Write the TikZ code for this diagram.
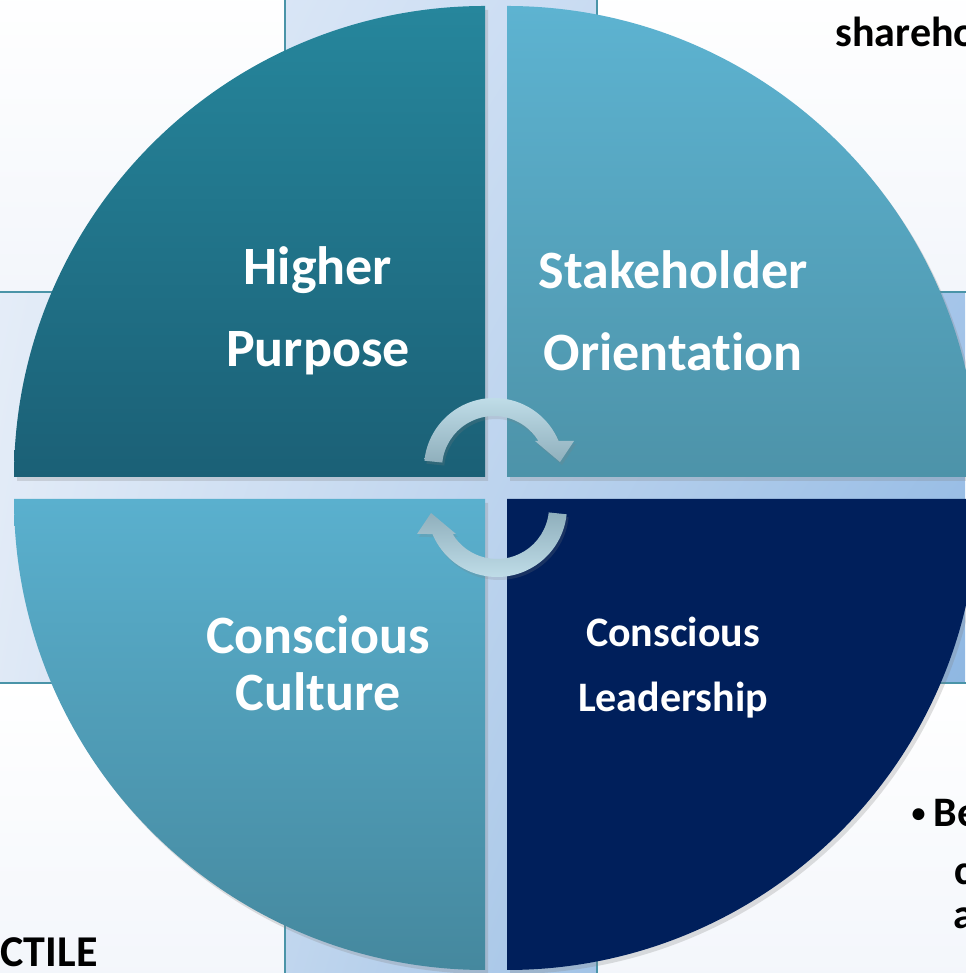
\documentclass[tikz,border=0pt]{standalone}
\usepackage{fontspec}
\setmainfont{Carlito}[Ligatures={TeX, NoCommon}]
\usetikzlibrary{shadows, shadings}

\definecolor{tlTop}{HTML}{26869C}
\definecolor{tlLow}{HTML}{1B6076}
\definecolor{trTop}{HTML}{5DB3D1}
\definecolor{trLow}{HTML}{4D93A9}
\definecolor{blTop}{HTML}{5AB0CE}
\definecolor{blLow}{HTML}{45889E}
\definecolor{brFill}{HTML}{001F5B}
\definecolor{panelline}{HTML}{4A94A8}
\definecolor{panellow}{HTML}{F3F6FB}
\definecolor{arrowtop}{HTML}{C2DFEA}
\definecolor{arrowlow}{HTML}{8FAFBC}
\definecolor{bgUL}{HTML}{E8EFF9}
\definecolor{bgUR}{HTML}{B5CFEE}
\definecolor{bgLL}{HTML}{DCE7F5}
\definecolor{bgLR}{HTML}{7EADDD}

\begin{document}
\begin{tikzpicture}[
  x=1pt, y=1pt,
  panel/.style={draw=panelline, line width=2pt, top color=white, bottom color=panellow},
  quad/.style={drop shadow={opacity=0.25, shadow xshift=3pt, shadow yshift=-4pt}},
  bigtext/.style={text=white, align=center, font=\fontsize{54}{82}\selectfont\bfseries},
  midtext/.style={text=white, align=center, font=\fontsize{42}{65}\selectfont\bfseries},
  sidetext/.style={anchor=base west, text=black, font=\fontsize{42}{48}\selectfont\bfseries},
  cycarrow/.style={drop shadow={opacity=0.2, shadow xshift=2pt, shadow yshift=-3pt}},
]
\useasboundingbox (0,0) rectangle (965,973);

%% Backdrop and corner panels
\shade[upper left=bgUL, upper right=bgUR, lower left=bgLL, lower right=bgLR]
  (0,0) rectangle (965,973);
\path[panel] (-10,681) rectangle (285,990);
\path[panel] (597,681) rectangle (980,990);
\path[panel] (-10,-10) rectangle (285,290);
\path[panel] (597,-10) rectangle (980,290);

%% Side texts
\node[sidetext] (share) at (832,926) {shareho};
\node[sidetext] (bullet) at (908,146)
  {\raisebox{4pt}{\fontsize{28}{28}\selectfont\textbullet}\hspace{8pt}Be};
\node[sidetext] (linec) at (951,88) {c};
\node[sidetext] (linea) at (950,44) {a};
\node[sidetext, font=\fontsize{44}{48}\selectfont\bfseries] (ctile) at (-3,6) {CTILE};

%% Quadrants
\path[quad, top color=tlTop, bottom color=tlLow]
  (485,496) -- (14,496) arc[start angle=180, end angle=90, radius=471pt] -- cycle;
\path[quad, top color=trTop, bottom color=trLow]
  (507,496) -- (507,967) arc[start angle=90, end angle=0, radius=471pt] -- cycle;
\path[quad, top color=blTop, bottom color=blLow]
  (485,474) -- (14,474) arc[start angle=180, end angle=270, radius=471pt] -- cycle;
\path[quad, fill=brFill]
  (507,474) -- (978,474) arc[start angle=0, end angle=-90, radius=471pt] -- cycle;

%% Labels
\node[bigtext] (purpose) at (318,662) {Higher\\Purpose};
\node[bigtext] (stake) at (673,662) {Stakeholder\\Orientation};
\node[bigtext, font=\fontsize{54}{57}\selectfont\bfseries] (culture) at (318,310) {Conscious\\Culture};
\node[midtext] (leader) at (673,305) {Conscious\\Leadership};

%% Cycle arrows
\begin{scope}[shift={(494,505)}]
  \path[cycarrow, top color=arrowtop, bottom color=arrowlow]
    (174:70pt) arc[start angle=174, end angle=22.7, radius=70pt] -- (80,27) -- (66,6)
    -- (41,27) -- (31.3:52pt) arc[start angle=31.3, end angle=174, radius=52pt] -- cycle;
\end{scope}
\begin{scope}[rotate around={180:(495.5,485.5)}, shift={(494,505)}]
  \path[cycarrow, top color=arrowlow, bottom color=arrowtop]
    (174:70pt) arc[start angle=174, end angle=22.7, radius=70pt] -- (80,27) -- (66,6)
    -- (41,27) -- (31.3:52pt) arc[start angle=31.3, end angle=174, radius=52pt] -- cycle;
\end{scope}

\end{tikzpicture}
\end{document}
